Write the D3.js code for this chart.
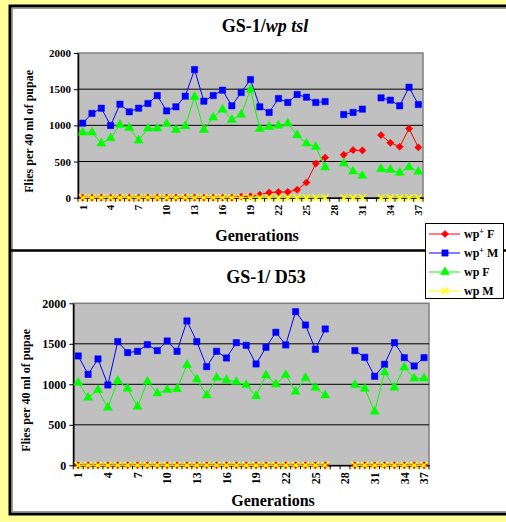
<!DOCTYPE html>
<html>
<head>
<meta charset="utf-8">
<script src="https://cdn.jsdelivr.net/npm/d3@7"></script>
<style>
  body { margin: 0; background: #ffff99; }
  svg { display: block; font-family: "Liberation Serif", "Times New Roman", serif; font-weight: bold; }
</style>
</head>
<body>
<svg width="506" height="522"></svg>
<script>
// categories (generations) for each panel
var topGens = [1,2,3,4,5,6,7,8,9,10,11,12,13,14,15,16,17,18,19,20,21,22,23,24,25,26,27,28,29,30,31,32,33,34,35,36,37];
var botGens = [1,2,3,4,5,6,7,8,9,10,11,12,13,14,15,16,17,18,19,20,21,22,23,24,25,26,27,28,29,30,31,32,33,34,35,37];
var xTickLabels = [1,4,7,10,13,16,19,22,25,28,31,34,37];
var yTickValues = [0,500,1000,1500,2000];

var seriesNames = ["wp+ F", "wp+ M", "wp F", "wp M"];

// GS-1/wp tsl (null = not scored)
var topWpPlusF = [0,0,0,0,0,0,0,0,0,0,0,0,0,0,0,0,0,15,20,40,72,78,80,110,210,472,555,null,593,658,653,null,865,759,704,957,695];
var topWpPlusM = [1030,1165,1237,998,1292,1187,1237,1302,1412,1200,1256,1403,1771,1334,1412,1486,1270,1454,1633,1256,1178,1371,1316,1426,1389,1316,1329,null,1150,1178,1224,null,1380,1348,1270,1527,1288];
var topWpF = [902,902,750,823,1007,966,791,957,957,1021,938,989,1394,938,1109,1219,1076,1150,1495,952,980,998,1026,865,750,704,419,null,474,363,304,null,396,386,345,423,359];
var topWpM = [0,0,0,0,0,0,0,0,0,0,0,0,0,0,0,0,0,0,0,0,0,0,0,0,0,0,0,null,0,0,0,null,0,0,0,0,0];

// GS-1/ D53
var botWpPlusF = [0,0,0,0,0,0,0,0,0,0,0,0,0,0,0,0,0,0,0,0,0,0,0,0,0,0,null,null,0,0,0,0,0,0,0,0];
var botWpPlusM = [1350,1123,1313,992,1527,1391,1407,1490,1416,1535,1407,1782,1527,1218,1407,1325,1514,1481,1251,1457,1642,1486,1897,1732,1432,1683,null,null,1416,1333,1099,1247,1514,1329,1226,1329];
var botWpF = [1020,835,930,712,1045,946,724,1033,889,930,942,1239,1062,864,1082,1053,1029,992,855,1111,1000,1115,909,1078,959,864,null,null,992,946,663,1148,959,1210,1074,1074];
var botWpM = [0,0,0,0,0,0,0,0,0,0,0,0,0,0,0,0,0,0,0,0,0,0,0,0,0,0,null,null,0,0,0,0,0,0,0,0];

var styles = [
  {color: "#ff0000", shape: d3.symbolSquare, size: 26, rotate: 45, fill: true},
  {color: "#0000ff", shape: d3.symbolSquare, size: 40, rotate: 0, fill: true},
  {color: "#00ff00", shape: d3.symbolTriangle, size: 36, rotate: 0, fill: true},
  {color: "#ffff00", shape: d3.symbolX, size: 34, rotate: 0, fill: false}
];

var svg = d3.select("svg");

// page panel
svg.append("rect").attr("x", 10).attr("y", 6).attr("width", 520).attr("height", 508)
  .attr("fill", "#fff").attr("stroke", "#000").attr("stroke-width", 3);
svg.append("rect").attr("x", 12.5).attr("y", 8.5).attr("width", 520).attr("height", 503)
  .attr("fill", "none").attr("stroke", "#999").attr("stroke-width", 1);
svg.append("line").attr("x1", 10).attr("x2", 506).attr("y1", 250.5).attr("y2", 250.5)
  .attr("stroke", "#000").attr("stroke-width", 2.5);

function symbolPath(st) {
  return d3.symbol().type(st.shape).size(st.size)();
}

function drawChart(o) {
  var g = svg.append("g");
  var x = d3.scaleBand().domain(o.gens).range([o.left, o.right]);
  var y = d3.scaleLinear().domain([0, 2000]).range([o.bottom, o.top]);
  var cx = function(d) { return x(d) + x.bandwidth() / 2; };

  g.append("rect")
    .attr("x", o.left).attr("y", o.top)
    .attr("width", o.right - o.left).attr("height", o.bottom - o.top)
    .attr("fill", "#c0c0c0").attr("stroke", "#808080").attr("stroke-width", 1.5);

  g.selectAll(".grid").data(yTickValues.slice(1, -1)).enter().append("line")
    .attr("x1", o.left).attr("x2", o.right)
    .attr("y1", function(d) { return y(d); }).attr("y2", function(d) { return y(d); })
    .attr("stroke", "#000").attr("stroke-width", 1);

  var ya = g.append("g").attr("transform", "translate(" + o.left + ",0)")
    .call(d3.axisLeft(y).tickValues(yTickValues).tickFormat(d3.format("d"))
      .tickSize(4).tickSizeOuter(0).tickPadding(3));
  ya.attr("font-family", null).attr("font-size", o.tickFont);
  ya.select(".domain").attr("stroke-width", 1.5);

  var xa = g.append("g").attr("transform", "translate(0," + o.bottom + ")")
    .call(d3.axisBottom(x).tickValues(xTickLabels).tickSize(0).tickSizeOuter(0));
  xa.attr("font-family", null).attr("font-size", o.tickFont);
  xa.select(".domain").attr("stroke-width", 1.5);
  xa.selectAll("text")
    .attr("transform", "rotate(-90)")
    .attr("x", -7).attr("y", 0).attr("dy", "0.35em")
    .attr("text-anchor", "end");

  // tick marks between categories
  var bounds = o.gens.map(function(d) { return x(d); }).concat([o.right]);
  g.selectAll(".btick").data(bounds).enter().append("line")
    .attr("x1", function(d) { return d; }).attr("x2", function(d) { return d; })
    .attr("y1", o.bottom).attr("y2", o.bottom + 4)
    .attr("stroke", "#000");

  o.series.forEach(function(vals, k) {
    var st = styles[k];
    var pts = o.gens.map(function(gen, i) { return {gen: gen, v: vals[i]}; });
    var line = d3.line()
      .defined(function(d) { return d.v != null; })
      .x(function(d) { return cx(d.gen); })
      .y(function(d) { return y(d.v); });
    g.append("path").datum(pts).attr("d", line)
      .attr("fill", "none").attr("stroke", st.color).attr("stroke-width", 1);
    g.selectAll(null).data(pts.filter(function(d) { return d.v != null; })).enter().append("path")
      .attr("transform", function(d) { return "translate(" + cx(d.gen) + "," + y(d.v) + ") rotate(" + st.rotate + ")"; })
      .attr("d", symbolPath(st))
      .attr("fill", st.fill ? st.color : "none")
      .attr("stroke", st.color).attr("stroke-width", st.fill ? 0.5 : 1.5);
  });

  // y title
  g.append("text")
    .attr("transform", "translate(" + o.yTitleX + "," + ((o.top + o.bottom) / 2 + 6) + ") rotate(-90)")
    .attr("text-anchor", "middle").attr("font-size", 12)
    .text("Flies per 40 ml of pupae");

  // x title
  g.append("text").attr("x", o.xTitleX).attr("y", o.xTitleY)
    .attr("text-anchor", "middle").attr("font-size", 16)
    .text("Generations");

  return g;
}

drawChart({
  gens: topGens, left: 78, right: 423, top: 53, bottom: 197.7,
  tickFont: 11, yTitleX: 33, xTitleX: 257, xTitleY: 241,
  series: [topWpPlusF, topWpPlusM, topWpF, topWpM]
});

drawChart({
  gens: botGens, left: 73.3, right: 429, top: 303.3, bottom: 465.3,
  tickFont: 12, yTitleX: 30, xTitleX: 273, xTitleY: 506,
  series: [botWpPlusF, botWpPlusM, botWpF, botWpM]
});

// titles
var t1 = svg.append("text").attr("x", 265).attr("y", 32).attr("text-anchor", "middle").attr("font-size", 18);
t1.append("tspan").text("GS-1/");
t1.append("tspan").attr("font-style", "italic").text("wp tsl");

svg.append("text").attr("x", 266).attr("y", 283).attr("text-anchor", "middle").attr("font-size", 18)
  .text("GS-1/ D53");

// legend
var lg = svg.append("g");
lg.append("rect").attr("x", 425.5).attr("y", 223.5).attr("width", 78).attr("height", 75)
  .attr("fill", "#fff").attr("stroke", "#000").attr("stroke-width", 1);
var ly = d3.scalePoint().domain(seriesNames).range([234, 291]);
seriesNames.forEach(function(name, k) {
  var st = styles[k];
  var yy = ly(name);
  lg.append("line").attr("x1", 429).attr("x2", 460).attr("y1", yy).attr("y2", yy)
    .attr("stroke", st.color).attr("stroke-width", 1);
  lg.append("path").attr("transform", "translate(445," + yy + ") rotate(" + st.rotate + ")")
    .attr("d", symbolPath(st))
    .attr("fill", st.fill ? st.color : "none")
    .attr("stroke", st.color).attr("stroke-width", st.fill ? 0.5 : 1.5);
  var tx = lg.append("text").attr("x", 464).attr("y", yy + 4).attr("font-size", 12);
  var sup = name.indexOf("+");
  if (sup < 0) {
    tx.text(name);
  } else {
    tx.append("tspan").text(name.slice(0, sup));
    tx.append("tspan").attr("font-size", 8).attr("dy", -4).text("+");
    tx.append("tspan").attr("dy", 4).text(name.slice(sup + 1));
  }
});
</script>
</body>
</html>
